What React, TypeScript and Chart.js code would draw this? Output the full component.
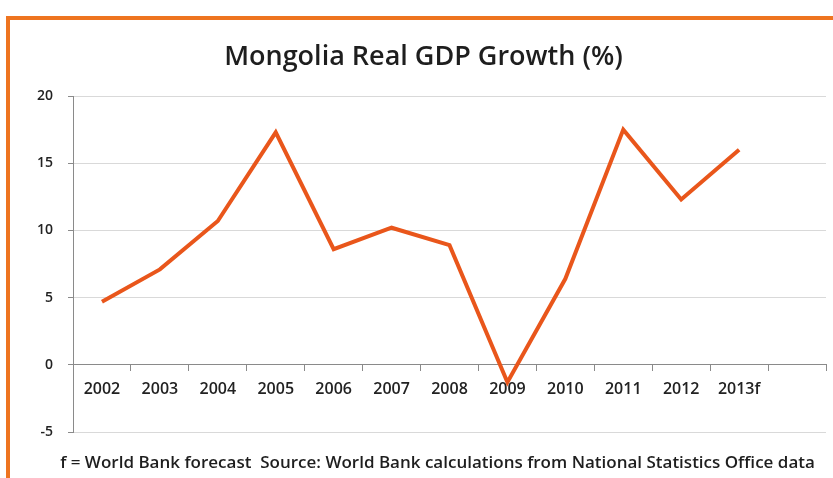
import React, { useEffect, useRef } from "react";
import { Chart, registerables } from "chart.js";

Chart.register(...registerables);

const categories: string[] = ["2002", "2003", "2004", "2005", "2006", "2007", "2008", "2009", "2010", "2011", "2012", "2013f", ""];
const gdpGrowth: (number | null)[] = [4.7, 7.1, 10.7, 17.3, 8.6, 10.2, 8.9, -1.3, 6.4, 17.5, 12.3, 16.0, null];
const yTicks: number[] = [-5, 0, 5, 10, 15, 20];
const titleText = "Mongolia Real GDP Growth (%)";
const footerText = "f = World Bank forecast  Source: World Bank calculations from National Statistics Office data";

const FONT = "'Open Sans', 'DejaVu Sans', sans-serif";

const decorPlugin = {
  id: "decor",
  beforeDraw(chart: any) {
    const ctx = chart.ctx;
    ctx.save();
    ctx.fillStyle = "#ffffff";
    ctx.fillRect(0, 0, chart.width, chart.height);
    ctx.fillStyle = "#EE7420";
    ctx.fillRect(6, 16, chart.width, 4);
    ctx.fillRect(6, 16, 4, chart.height);
    ctx.restore();
  },
  afterDraw(chart: any) {
    const ctx = chart.ctx;
    ctx.save();
    ctx.fillStyle = "#1e1e1e";
    ctx.textAlign = "center";
    ctx.textBaseline = "alphabetic";
    ctx.font = `600 27px ${FONT}`;
    ctx.fillText(titleText, 423.5, 64.5);
    ctx.font = `600 17px ${FONT}`;
    ctx.fillText(footerText, 437.5, 468);
    ctx.restore();
  },
};

export default function App() {
  const ref = useRef<HTMLCanvasElement | null>(null);
  useEffect(() => {
    if (!ref.current) return;
    const chart = new Chart(ref.current, {
      type: "line",
      data: {
        labels: categories,
        datasets: [
          {
            data: gdpGrowth,
            borderColor: "#E9561B",
            borderWidth: 4,
            pointRadius: 0,
            tension: 0,
            fill: false,
          },
        ],
      },
      options: {
        animation: false,
        responsive: false,
        layout: { padding: { top: 96, bottom: 46, left: 0, right: 7 } },
        plugins: { legend: { display: false }, tooltip: { enabled: false }, title: { display: false } },
        scales: {
          x: {
            type: "category",
            position: { y: 0 } as any,
            offset: true,
            grid: { offset: true, drawOnChartArea: false, drawTicks: true, tickLength: 6, color: "#8a8a8a" },
            border: { display: true, color: "#8a8a8a", width: 1 },
            ticks: { color: "#222", font: { family: FONT, size: 16, weight: "600" }, padding: 9, maxRotation: 0, autoSkip: false },
          },
          y: {
            min: -5,
            max: 20,
            afterFit: (scale: any) => {
              scale.width = 73;
            },
            afterBuildTicks: (scale: any) => {
              scale.ticks = yTicks.map((v) => ({ value: v }));
            },
            grid: { color: "#d9d9d9", tickColor: "#8a8a8a", tickLength: 5, drawTicks: true },
            border: { display: true, color: "#8a8a8a", width: 1 },
            ticks: { color: "#222", font: { family: FONT, size: 14, weight: "600" }, padding: 15 },
          },
        },
      },
      plugins: [decorPlugin],
    });
    return () => chart.destroy();
  }, []);
  return (
    <div style={{ position: "absolute", left: 0, top: 0, width: 833, height: 478 }}>
      <canvas ref={ref} width={833} height={478} />
    </div>
  );
}
